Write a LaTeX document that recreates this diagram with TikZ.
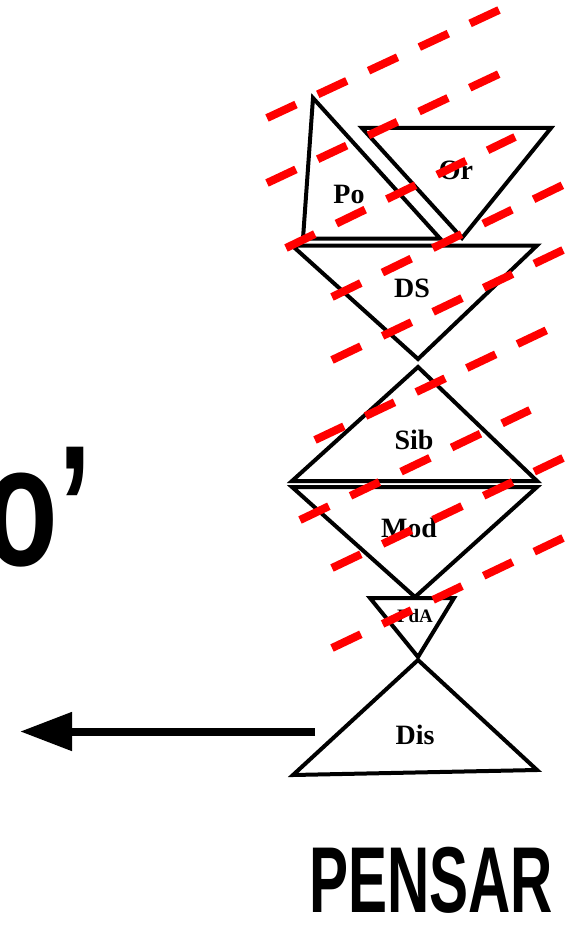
\documentclass[tikz,border=0pt]{standalone}
\usepackage{fontspec}
\setmainfont{Liberation Serif}
\newfontfamily\headfont{Liberation Sans}
\usetikzlibrary{arrows.meta}
\tikzset{
  tri/.style={draw=black, line width=4pt, line join=miter},
  lbl/.style={font=\bfseries\fontsize{28}{30}\selectfont, inner sep=0pt, anchor=base},
  slbl/.style={font=\bfseries\fontsize{19}{21}\selectfont, inner sep=0pt, anchor=base},
  reddash/.style={draw=red, line width=8pt, dash pattern=on 32pt off 24pt, line cap=butt},
  bigarrow/.style={draw=black, line width=8pt, -{Triangle[length=52pt,width=37pt]}}
}
\begin{document}
\begin{tikzpicture}[x=1pt,y=-1pt]
\useasboundingbox (0,0) rectangle (577,925);
\clip (0,0) rectangle (577,925);
% triangles
\draw[tri] (313,98) -- (303,238.5) -- (440,238.5) -- cycle;
\draw[tri] (362,128) -- (551,128) -- (462,238) -- cycle;
\draw[tri] (292,245.5) -- (537,245.5) -- (418,359) -- cycle;
\draw[tri] (418,367) -- (292,481) -- (537,481) -- cycle;
\draw[tri] (292,487) -- (537,487) -- (415,597) -- cycle;
\draw[tri] (370,598) -- (454,598) -- (418,657) -- cycle;
\draw[tri] (418,660) -- (293,775) -- (537,770) -- cycle;
% labels
\node[lbl] (po) at (349,204) {Po};
\node[lbl] (or) at (456,180) {Or};
\node[lbl] (ds) at (412,297) {DS};
\node[lbl] (sib) at (414,449) {Sib};
\node[lbl] (mod) at (409,537) {Mod};
\node[slbl] (pda) at (415,622) {PdA};
\node[lbl] (dis) at (415,744) {Dis};
% red dashed lines
\draw[reddash] (267,118) -- (499,10);
\draw[reddash] (267,183) -- (499,74);
\draw[reddash] (286,248) -- (515,137);
\draw[reddash] (332,297) -- (563,185);
\draw[reddash] (332,360) -- (563,250);
\draw[reddash] (315,440) -- (547,330);
\draw[reddash] (300,520) -- (530,410);
\draw[reddash] (332,568) -- (563,458);
\draw[reddash] (332,648) -- (563,538);
% arrow
\coordinate (arrS) at (315,731.5);
\coordinate (arrE) at (20,731.5);
\draw[bigarrow] (arrS) -- (arrE);
% big texts
\node[inner sep=0pt, anchor=base east, font=\headfont\bfseries\fontsize{172}{180}\selectfont] (oq) at (92,565) {\scalebox{0.7}[1]{o’}};
\node[inner sep=0pt, anchor=base west, font=\headfont\bfseries\fontsize{93.6}{100}\selectfont] (pensar) at (309,912) {\scalebox{0.625}[1]{PENSAR}};
\end{tikzpicture}
\end{document}
